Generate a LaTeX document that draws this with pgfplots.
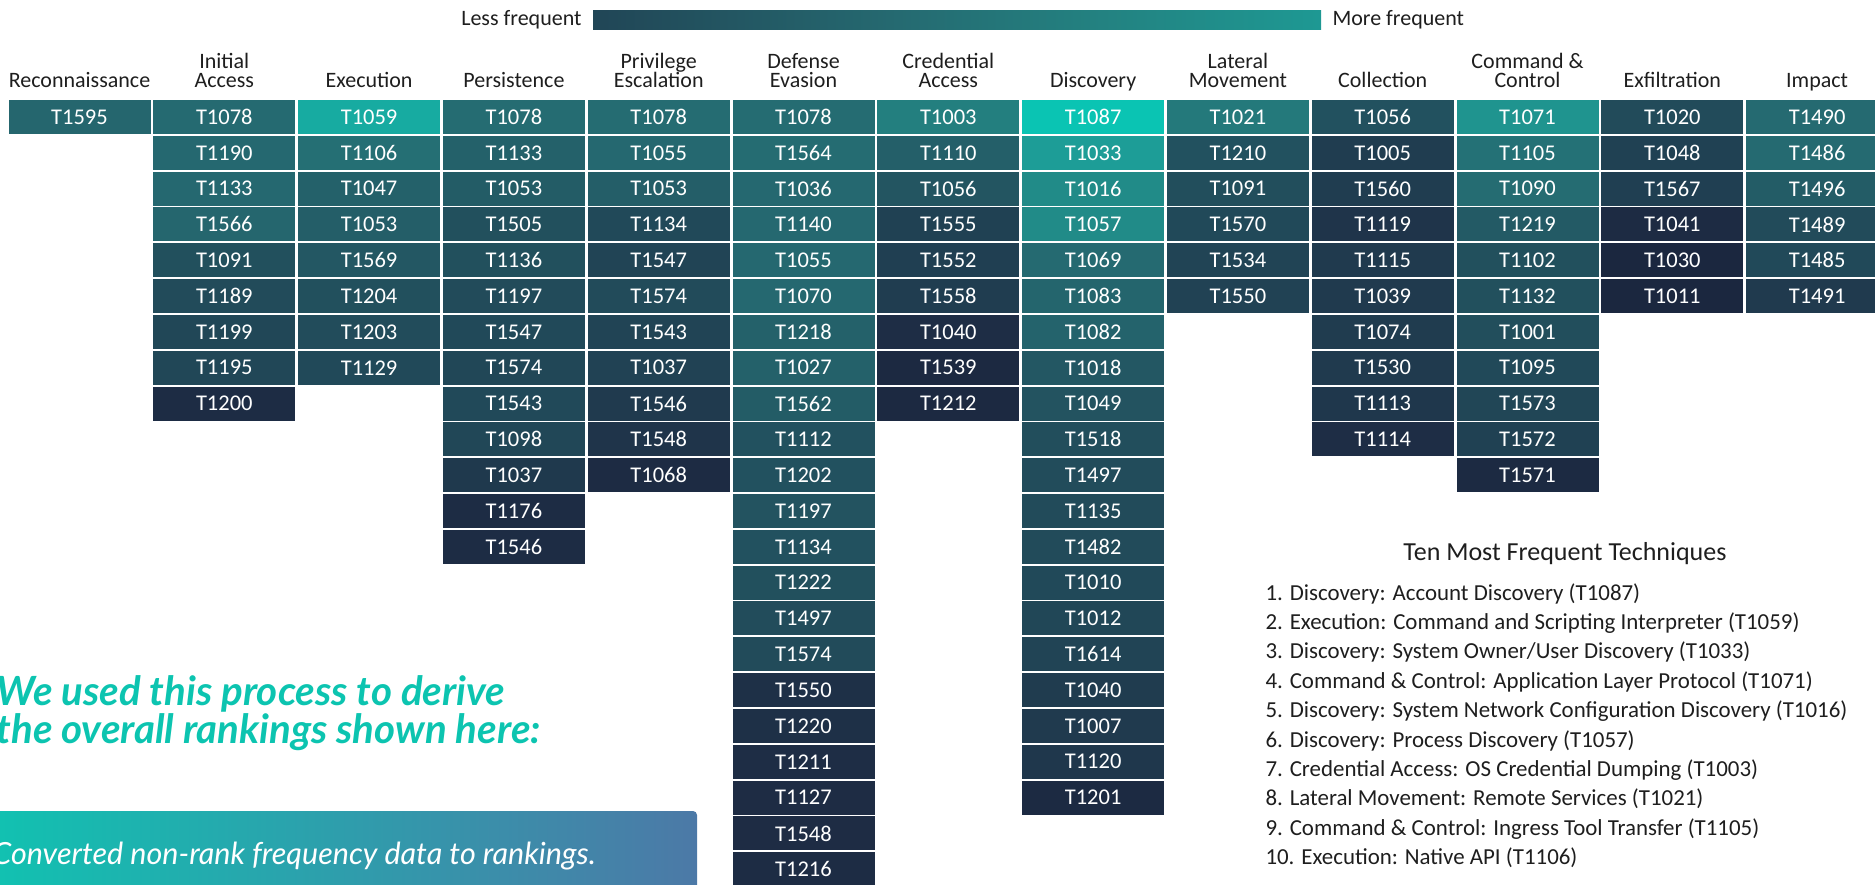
\documentclass[border=0pt]{standalone}
\usepackage{pgfplots}
\pgfplotsset{compat=1.18}
\usepackage{pgfplotstable}
\usepackage{fontspec}
\setmainfont{Carlito}
\newfontfamily\latofont{Lato}
\definecolor{hdr}{RGB}{30,30,30}
\definecolor{tealtxt}{RGB}{12,196,176}
\definecolor{boxL}{RGB}{16,195,177}
\definecolor{boxR}{RGB}{76,121,167}
\pgfdeclarehorizontalshading{freq}{100bp}{rgb(0bp)=(0.106,0.153,0.247); rgb(10bp)=(0.118,0.176,0.271); rgb(30bp)=(0.133,0.306,0.361); rgb(46bp)=(0.145,0.416,0.443); rgb(60bp)=(0.137,0.510,0.506); rgb(80bp)=(0.110,0.627,0.600); rgb(100bp)=(0.039,0.769,0.702)}
\pgfdeclareplotmark{cell}{\pgfpathrectangle{\pgfqpoint{-28.4pt}{-6.8pt}}{\pgfqpoint{56.8pt}{13.6pt}}\pgfusepathqfill}
\newcommand\cellfont{\fontsize{9}{9}\selectfont}
\newcommand\hfont{\fontsize{8.8}{9}\selectfont}

\pgfplotsset{
  cellfill/.style={scatter, only marks, mark=cell, point meta=explicit,
    scatter/use mapped color={draw=mapped color, fill=mapped color}},
  celltext/.style={only marks, mark=none, point meta=explicit symbolic,
    nodes near coords, nodes near coords align=center,
    every node near coord/.append style={anchor=center, text=white, inner sep=0pt, font=\cellfont}},
}

% one table per tactic: row, frequency (0..1), technique
\pgfplotstableread{
r v label
1 0.44 T1595
}\tRecon
\pgfplotstableread{
r v label
1 0.46 T1078
2 0.45 T1190
3 0.45 T1133
4 0.44 T1566
5 0.31 T1091
6 0.28 T1189
7 0.26 T1199
8 0.26 T1195
9 0.08 T1200
}\tInit
\pgfplotstableread{
r v label
1 0.86 T1059
2 0.49 T1106
3 0.41 T1047
4 0.39 T1053
5 0.35 T1569
6 0.31 T1204
7 0.29 T1203
8 0.27 T1129
}\tExec
\pgfplotstableread{
r v label
1 0.47 T1078
2 0.41 T1133
3 0.38 T1053
4 0.31 T1505
5 0.31 T1136
6 0.28 T1197
7 0.27 T1547
8 0.26 T1574
9 0.27 T1543
10 0.26 T1098
11 0.17 T1037
12 0.08 T1176
13 0.08 T1546
}\tPers
\pgfplotstableread{
r v label
1 0.47 T1078
2 0.45 T1055
3 0.39 T1053
4 0.27 T1134
5 0.24 T1547
6 0.28 T1574
7 0.24 T1543
8 0.23 T1037
9 0.18 T1546
10 0.14 T1548
11 0.07 T1068
}\tPriv
\pgfplotstableread{
r v label
1 0.47 T1078
2 0.47 T1564
3 0.45 T1036
4 0.45 T1140
5 0.45 T1055
6 0.45 T1070
7 0.41 T1218
8 0.41 T1027
9 0.38 T1562
10 0.32 T1112
11 0.32 T1202
12 0.33 T1197
13 0.32 T1134
14 0.31 T1222
15 0.29 T1497
16 0.28 T1574
17 0.12 T1550
18 0.12 T1220
19 0.10 T1211
20 0.09 T1127
21 0.09 T1548
22 0.08 T1216
}\tDef
\pgfplotstableread{
r v label
1 0.58 T1003
2 0.40 T1110
3 0.34 T1056
4 0.22 T1555
5 0.21 T1552
6 0.20 T1558
7 0.10 T1040
8 0.03 T1539
9 0.03 T1212
}\tCred
\pgfplotstableread{
r v label
1 1.00 T1087
2 0.78 T1033
3 0.66 T1016
4 0.66 T1057
5 0.46 T1069
6 0.43 T1083
7 0.42 T1082
8 0.35 T1018
9 0.33 T1049
10 0.30 T1518
11 0.29 T1497
12 0.28 T1135
13 0.28 T1482
14 0.27 T1010
15 0.26 T1012
16 0.24 T1614
17 0.19 T1040
18 0.18 T1007
19 0.16 T1120
20 0.05 T1201
}\tDisc
\pgfplotstableread{
r v label
1 0.55 T1021
2 0.32 T1210
3 0.30 T1091
4 0.27 T1570
5 0.24 T1534
6 0.23 T1550
}\tLat
\pgfplotstableread{
r v label
1 0.32 T1056
2 0.20 T1005
3 0.20 T1560
4 0.14 T1119
5 0.18 T1115
6 0.18 T1039
7 0.19 T1074
8 0.18 T1530
9 0.16 T1113
10 0.10 T1114
}\tColl
\pgfplotstableread{
r v label
1 0.72 T1071
2 0.50 T1105
3 0.47 T1090
4 0.37 T1219
5 0.31 T1102
6 0.31 T1132
7 0.30 T1001
8 0.27 T1095
9 0.25 T1573
10 0.22 T1572
11 0.05 T1571
}\tCC
\pgfplotstableread{
r v label
1 0.28 T1020
2 0.22 T1048
3 0.21 T1567
4 0.07 T1041
5 0.00 T1030
6 0.00 T1011
}\tExf
\pgfplotstableread{
r v label
1 0.46 T1490
2 0.46 T1486
3 0.38 T1496
4 0.28 T1489
5 0.27 T1485
6 0.18 T1491
}\tImp

\newcommand\col[2]{%
  \addplot[cellfill] table[x expr=#1, y expr=117+35.82*(\thisrow{r}-1), meta=v] {#2};
  \addplot[celltext] table[x expr=#1, y expr=117+35.82*(\thisrow{r}-1), meta=label] {#2};
}
\newcommand\hdrone[2]{\node[anchor=base, font=\hfont, text=hdr] at (axis cs:#1,87) {#2};}
\newcommand\hdrtwo[3]{\node[anchor=base, font=\hfont, text=hdr] at (axis cs:#1,68) {#2};
  \node[anchor=base, font=\hfont, text=hdr] at (axis cs:#1,87) {#3};}

\begin{document}
\begin{tikzpicture}
\useasboundingbox (0,0) rectangle (750pt,353.6pt);
\clip (0,0) rectangle (750pt,353.6pt);
\begin{axis}[at={(0,0)}, anchor=south west, scale only axis,
  width=750pt, height=353.6pt,
  xmin=0, xmax=1875, ymin=0, ymax=884, y dir=reverse,
  hide axis, clip=false,
  colormap={freq}{rgb255(0pt)=(27,39,63); rgb255(10pt)=(30,45,69); rgb255(30pt)=(34,78,92); rgb255(46pt)=(37,106,113); rgb255(60pt)=(35,130,129); rgb255(80pt)=(28,160,153); rgb255(100pt)=(10,196,179)},
  point meta min=0, point meta max=1]

% decorative gradient box and heading (behind)
\shade[left color=boxL, right color=boxR, rounded corners=1.6pt]
  (axis cs:-20,900) rectangle (axis cs:697,811);
\node[anchor=base west, inner sep=0pt, font=\latofont\itshape\fontsize{12.2}{12}\selectfont, text=white]
  at (axis cs:-8,864) {Converted non-rank frequency data to rankings.};
\node[anchor=base west, inner sep=0pt, font=\latofont\bfseries\itshape\fontsize{16.1}{16}\selectfont, text=tealtxt]
  at (axis cs:-4,705) {We used this process to derive};
\node[anchor=base west, inner sep=0pt, font=\latofont\bfseries\itshape\fontsize{16.1}{16}\selectfont, text=tealtxt]
  at (axis cs:-4,743) {the overall rankings shown here:};

\col{79.5}{\tRecon}
\col{224.3}{\tInit}
\col{369.1}{\tExec}
\col{513.9}{\tPers}
\col{658.7}{\tPriv}
\col{803.5}{\tDef}
\col{948.3}{\tCred}
\col{1093.1}{\tDisc}
\col{1237.9}{\tLat}
\col{1382.7}{\tColl}
\col{1527.5}{\tCC}
\col{1672.3}{\tExf}
\col{1817.1}{\tImp}

% column headers
\hdrone{79.5}{Reconnaissance}
\hdrtwo{224.3}{Initial}{Access}
\hdrone{369.1}{Execution}
\hdrone{513.9}{Persistence}
\hdrtwo{658.7}{Privilege}{Escalation}
\hdrtwo{803.5}{Defense}{Evasion}
\hdrtwo{948.3}{Credential}{Access}
\hdrone{1093.1}{Discovery}
\hdrtwo{1237.9}{Lateral}{Movement}
\hdrone{1382.7}{Collection}
\hdrtwo{1527.5}{Command \&}{Control}
\hdrone{1672.3}{Exfiltration}
\hdrone{1817.1}{Impact}

% colour scale
\shade[shading=freq] (axis cs:593,29) rectangle (axis cs:1321,10);
\node[anchor=base east, inner sep=0pt, font=\hfont, text=hdr] at (axis cs:582,25.5) {Less frequent};
\node[anchor=base west, inner sep=0pt, font=\hfont, text=hdr] at (axis cs:1332,25.5) {More frequent};

% top ten list
\node[anchor=base, inner sep=0pt, font=\fontsize{10.4}{10}\selectfont, text=hdr] at (axis cs:1565,560.5) {Ten Most Frequent Techniques};
\begin{scope}[every node/.style={anchor=base west, font=\fontsize{9.16}{9}\selectfont, text=hdr, inner sep=0pt}]
\node at (axis cs:1265,600) {1. Discovery: Account Discovery (T1087)};
\node at (axis cs:1265,629.4) {2. Execution: Command and Scripting Interpreter (T1059)};
\node at (axis cs:1265,658.8) {3. Discovery: System Owner/User Discovery (T1033)};
\node at (axis cs:1265,688.2) {4. Command \& Control: Application Layer Protocol (T1071)};
\node at (axis cs:1265,717.6) {5. Discovery: System Network Configuration Discovery (T1016)};
\node at (axis cs:1265,747) {6. Discovery: Process Discovery (T1057)};
\node at (axis cs:1265,776.4) {7. Credential Access: OS Credential Dumping (T1003)};
\node at (axis cs:1265,805.8) {8. Lateral Movement: Remote Services (T1021)};
\node at (axis cs:1265,835.2) {9. Command \& Control: Ingress Tool Transfer (T1105)};
\node at (axis cs:1265,864.6) {10. Execution: Native API (T1106)};
\end{scope}
\end{axis}
\end{tikzpicture}
\end{document}
